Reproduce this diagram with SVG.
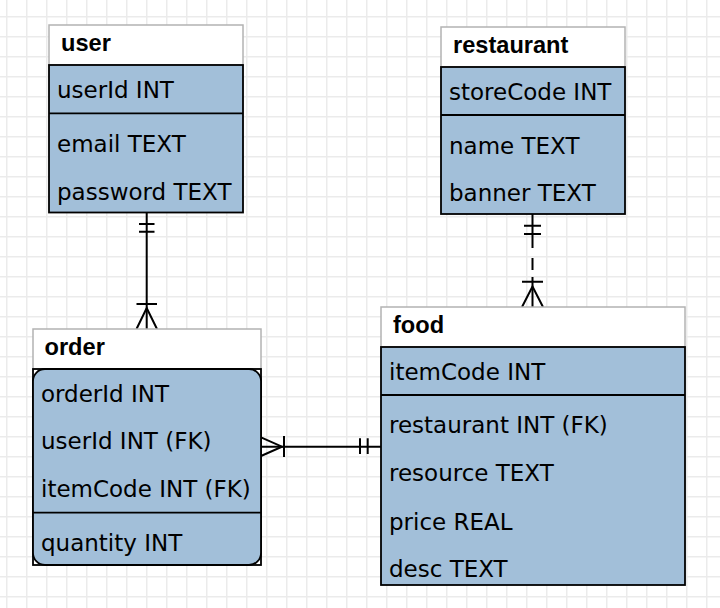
<svg xmlns="http://www.w3.org/2000/svg" width="720" height="608" viewBox="0 0 720 608">
<defs>
<pattern id="grid" width="20" height="20" x="6" y="16" patternUnits="userSpaceOnUse">
<path d="M0 0.75 H20 M0.75 0 V20" fill="none" stroke="#ebebeb" stroke-width="1.5"/>
</pattern>
<style>
.hdr{fill:#ffffff;stroke:#b3b3b3;stroke-width:1.5}
.body{fill:#a2bfd9;stroke:#000000;stroke-width:1.8}
.frame{fill:none;stroke:#000000;stroke-width:1.8}
.div{stroke:#000000;stroke-width:1.8}
.title{font-family:"Liberation Sans",Arial,sans-serif;font-weight:bold;font-size:23.6px;fill:#000000}
.row{font-family:"DejaVu Sans",Verdana,sans-serif;font-size:23px;fill:#000000}
.conn{fill:none;stroke:#000000;stroke-width:2}
</style>
</defs>
<rect width="720" height="608" fill="#ffffff"/>
<rect width="720" height="608" fill="url(#grid)"/>

<g id="connectors">
<g id="user-order">
<path class="conn" d="M146.7 212.5 V329"/>
<path class="conn" d="M139 224 H154.5 M139 231.7 H154.5"/>
<path class="conn" d="M136.5 304 H157 M136.5 329 L146.7 308 L157 329"/>
</g>
<g id="restaurant-food">
<path class="conn" d="M532.5 214 V307" stroke-dasharray="34 10 12 7 100"/>
<path class="conn" d="M524 225.7 H541 M524 234 H541"/>
<path class="conn" d="M522 281.7 H543 M522 307 L532.5 286.5 L543 307"/>
</g>
<g id="order-food">
<path class="conn" d="M261 446.7 H381"/>
<path class="conn" d="M261 437.3 L282 446.7 L261 456 M284 436 V457"/>
<path class="conn" d="M360 438.3 V454 M367.7 438.3 V454"/>
</g>
</g>

<g id="user">
<rect class="hdr" x="49" y="25" width="194" height="40"/>
<rect class="body" x="49" y="65" width="194" height="147.5"/>
<line class="div" x1="49" y1="113.3" x2="243" y2="113.3"/>
<text class="title" x="61" y="51">user</text>
<text class="row" x="57" y="98">userId INT</text>
<text class="row" x="57" y="152">email TEXT</text>
<text class="row" x="57" y="200">password TEXT</text>
</g>

<g id="restaurant">
<rect class="hdr" x="441" y="27" width="184" height="40"/>
<rect class="body" x="441" y="67" width="184" height="147"/>
<line class="div" x1="441" y1="115" x2="625" y2="115"/>
<text class="title" x="453" y="53">restaurant</text>
<text class="row" x="449" y="100">storeCode INT</text>
<text class="row" x="449" y="153.5">name TEXT</text>
<text class="row" x="449" y="200.5">banner TEXT</text>
</g>

<g id="order">
<rect class="hdr" x="33" y="329" width="228" height="40"/>
<rect class="frame" x="33" y="369" width="228" height="196"/>
<rect class="body" x="33" y="369" width="228" height="196" rx="12" ry="12"/>
<line class="div" x1="33" y1="512.7" x2="261" y2="512.7"/>
<text class="title" x="44.5" y="355">order</text>
<text class="row" x="41" y="401.7">orderId INT</text>
<text class="row" x="41" y="449.3">userId INT (FK)</text>
<text class="row" x="41" y="496.7">itemCode INT (FK)</text>
<text class="row" x="41" y="551">quantity INT</text>
</g>

<g id="food">
<rect class="hdr" x="381" y="307" width="304" height="40"/>
<rect class="body" x="381" y="347" width="304" height="238"/>
<line class="div" x1="381" y1="395" x2="685" y2="395"/>
<text class="title" x="393" y="332.5">food</text>
<text class="row" x="389" y="380">itemCode INT</text>
<text class="row" x="389" y="432.7">restaurant INT (FK)</text>
<text class="row" x="389" y="481">resource TEXT</text>
<text class="row" x="389" y="530">price REAL</text>
<text class="row" x="389" y="576.7">desc TEXT</text>
</g>
</svg>
